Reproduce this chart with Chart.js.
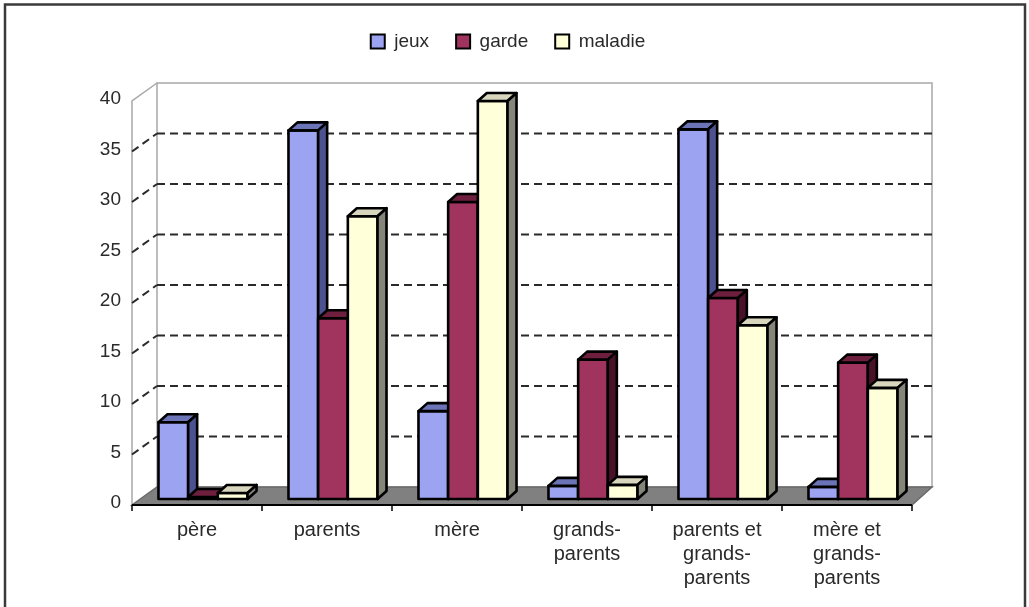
<!DOCTYPE html>
<html><head><meta charset="utf-8">
<script src="https://cdn.jsdelivr.net/npm/chart.js@4.4.1/dist/chart.umd.min.js"></script>
<style>html,body{margin:0;padding:0;background:#fff;overflow:hidden}canvas{display:block}</style>
</head><body>
<canvas id="c" width="1029" height="607"></canvas>
<script>
// ---- data ----
const categories = [['père'], ['parents'], ['mère'], ['grands-', 'parents'], ['parents et', 'grands-', 'parents'], ['mère et', 'grands-', 'parents']];
const seriesNames = ['jeux', 'garde', 'maladie'];
const jeux = [7.6, 36.5, 8.7, 1.3, 36.6, 1.2];
const garde = [0.2, 17.9, 29.4, 13.8, 19.9, 13.5];
const maladie = [0.6, 28.0, 39.4, 1.4, 17.2, 11.0];
const yMin = 0, yMax = 40, yStep = 5;

// ---- styles ----
const frontColors = ['#9CA3F0', '#A0345F', '#FFFFD9'];
const topColors = ['#6C74B8', '#6E1F3E', '#D9D6BE'];
const sideColors = ['#4C5290', '#4A1229', '#85857A'];
const FONT = '"Liberation Sans", Arial, sans-serif';
const G = { fdx: -6, fdy: 6, bdy: -12, backL: 157, backR: 932, dx: 9, dy: -8 };

const scene = {
  id: 'scene',
  beforeInit(chart) {
    const lg = chart.legend;
    if (lg) {
      const orig = lg.fit;
      lg.fit = function () { orig.call(this); this.height = 90; };
    }
  },
  beforeDraw(chart) {
    const ctx = chart.ctx;
    ctx.save();
    ctx.fillStyle = '#fff';
    ctx.fillRect(0, 0, chart.width, chart.height);
    ctx.restore();
  },
  beforeDatasetsDraw(chart) {
    const { ctx, chartArea: a, scales: { x, y } } = chart;
    const y0 = y.getPixelForValue(yMin), yT = y.getPixelForValue(yMax);
    const fL = a.left + G.fdx, fR = a.right + G.fdx, fy0 = y0 + G.fdy, fyT = yT + G.fdy;
    const bL = G.backL, bR = G.backR, by0 = y0 + G.bdy, byT = yT + G.bdy;
    ctx.save();
    // back wall
    ctx.strokeStyle = '#a8a8a8'; ctx.lineWidth = 1.5;
    ctx.beginPath(); ctx.rect(bL, byT, bR - bL, by0 - byT); ctx.stroke();
    // left wall
    ctx.beginPath(); ctx.moveTo(fL, fy0); ctx.lineTo(fL, fyT); ctx.lineTo(bL, byT); ctx.stroke();
    // gridlines
    ctx.setLineDash([8, 5]); ctx.strokeStyle = '#2a2a2a'; ctx.lineWidth = 2;
    for (let v = yMin + yStep; v < yMax; v += yStep) {
      const py = y.getPixelForValue(v);
      ctx.beginPath(); ctx.moveTo(bL, py + G.bdy); ctx.lineTo(bR, py + G.bdy); ctx.stroke();
      ctx.beginPath(); ctx.moveTo(fL, py + G.fdy); ctx.lineTo(bL, py + G.bdy); ctx.stroke();
    }
    ctx.setLineDash([]);
    // floor
    ctx.fillStyle = '#808080';
    ctx.beginPath(); ctx.moveTo(fL, fy0); ctx.lineTo(fR, fy0); ctx.lineTo(bR, by0); ctx.lineTo(bL, by0); ctx.closePath(); ctx.fill();
    ctx.strokeStyle = '#6a6a6a'; ctx.lineWidth = 1.5; ctx.stroke();
    // front x axis
    ctx.strokeStyle = '#000'; ctx.lineWidth = 2;
    ctx.beginPath(); ctx.moveTo(fL, fy0); ctx.lineTo(fR, fy0); ctx.stroke();
    ctx.lineWidth = 1.5;
    for (let i = 0; i <= categories.length; i++) {
      const px = x.getPixelForValue(i - 0.5) + G.fdx;
      ctx.beginPath(); ctx.moveTo(px, fy0); ctx.lineTo(px, fy0 + 6); ctx.stroke();
    }
    ctx.restore();
  },
  afterDatasetsDraw(chart) {
    const ctx = chart.ctx;
    ctx.save();
    ctx.lineWidth = 2.6; ctx.strokeStyle = '#000'; ctx.lineJoin = 'round';
    // paint bars left-to-right within each group so later bars cover earlier side faces
    for (let i = 0; i < chart.data.datasets.length; i++) {
      const meta = chart.getDatasetMeta(i);
      meta.data.forEach(el => {
        const { x, y, base, width } = el.getProps(['x', 'y', 'base', 'width'], true);
        const l = x - width / 2, r = x + width / 2;
        ctx.fillStyle = frontColors[i];
        ctx.fillRect(l, y, width, base - y);
        ctx.strokeRect(l, y, width, base - y);
        ctx.beginPath();
        ctx.moveTo(l, y); ctx.lineTo(l + G.dx, y + G.dy); ctx.lineTo(r + G.dx, y + G.dy); ctx.lineTo(r, y); ctx.closePath();
        ctx.fillStyle = topColors[i]; ctx.fill(); ctx.stroke();
        ctx.beginPath();
        ctx.moveTo(r, y); ctx.lineTo(r + G.dx, y + G.dy); ctx.lineTo(r + G.dx, base + G.dy); ctx.lineTo(r, base); ctx.closePath();
        ctx.fillStyle = sideColors[i]; ctx.fill(); ctx.stroke();
      });
    }
    ctx.restore();
  },
  afterDraw(chart) {
    const ctx = chart.ctx;
    ctx.save();
    ctx.strokeStyle = '#3a3a3a'; ctx.lineWidth = 2.5;
    ctx.beginPath(); ctx.moveTo(5, 620); ctx.lineTo(5, 4.5); ctx.lineTo(1025, 4.5); ctx.lineTo(1025, 620); ctx.stroke();
    ctx.restore();
  }
};

const seriesData = [jeux, garde, maladie];
const datasets = seriesNames.map((n, i) => ({
  label: n,
  data: seriesData[i],
  backgroundColor: frontColors[i],
  borderColor: '#000',
  borderWidth: 2,
  borderSkipped: false,
  categoryPercentage: 0.685,
  barPercentage: 1.0
}));

new Chart(document.getElementById('c'), {
  type: 'bar',
  data: { labels: categories, datasets },
  plugins: [scene],
  options: {
    responsive: false, animation: false, devicePixelRatio: 1,
    layout: { padding: { left: 98, right: 111, top: 5, bottom: 8 } },
    plugins: {
      legend: {
        position: 'top',
        labels: { font: { family: FONT, size: 19 }, color: '#2a2a2a', boxWidth: 14, boxHeight: 14, padding: 27 }
      },
      tooltip: { enabled: false }
    },
    scales: {
      x: {
        grid: { display: false, drawTicks: false }, border: { display: false },
        ticks: { font: { family: FONT, size: 20 }, color: '#2a2a2a', padding: 19, labelOffset: -6, maxRotation: 0, autoSkip: false },
        afterFit(s) { s.height = 100; }
      },
      y: {
        min: yMin, max: yMax,
        grid: { display: false, drawTicks: false }, border: { display: false },
        ticks: { stepSize: yStep, font: { family: FONT, size: 19 }, color: '#2a2a2a', padding: 17, labelOffset: 4 },
        afterFit(s) { s.width = 40; }
      }
    }
  }
});
</script>
</body></html>
